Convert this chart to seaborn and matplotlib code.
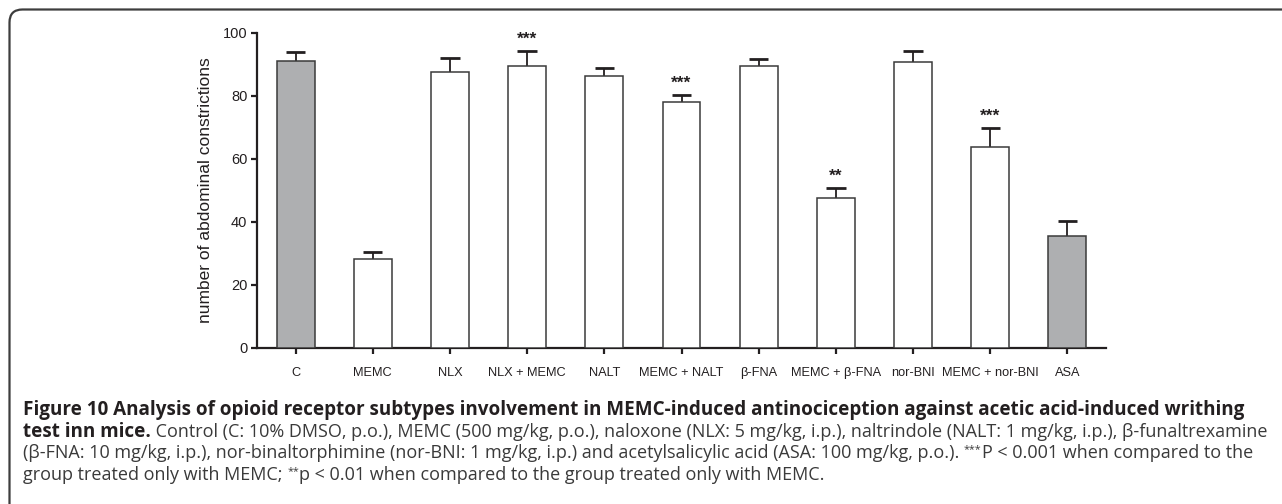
import numpy as np
import pandas as pd
import seaborn as sns
import matplotlib.pyplot as plt
from matplotlib import font_manager
from matplotlib.patches import FancyBboxPatch
from matplotlib.transforms import IdentityTransform

# group means and SEM
groups = ["C", "MEMC", "NLX", "NLX + MEMC", "NALT", "MEMC + NALT", "β-FNA",
          "MEMC + β-FNA", "nor-BNI", "MEMC + nor-BNI", "ASA"]
means = [91.2, 28.1, 87.6, 89.5, 86.4, 78.0, 89.4, 47.4, 90.7, 63.6, 35.4]
sems = [2.7, 2.2, 4.3, 4.8, 2.5, 2.4, 2.3, 3.3, 3.7, 6.3, 4.7]
stars = ["", "", "", "***", "", "***", "", "**", "", "***", ""]
yticks = [0, 20, 40, 60, 80, 100]

GRAY = "#adafb2"
INK = "#231f20"
fills = [GRAY if g in ("C", "ASA") else "white" for g in groups]

caption_lines = [
    [("Figure 10 Analysis of opioid receptor subtypes involvement in MEMC-induced "
      "antinociception against acetic acid-induced writhing", "bold", False)],
    [("test inn mice.", "bold", False),
     (" Control (C: 10% DMSO, p.o.), MEMC (500 mg/kg, p.o.), naloxone (NLX: 5 mg/kg, i.p.), "
      "naltrindole (NALT: 1 mg/kg, i.p.), β-funaltrexamine", "normal", False)],
    [("(β-FNA: 10 mg/kg, i.p.), nor-binaltorphimine (nor-BNI: 1 mg/kg, i.p.) and acetylsalicylic "
      "acid (ASA: 100 mg/kg, p.o.). ", "normal", False),
     ("***", "normal", True),
     ("P < 0.001 when compared to the", "normal", False)],
    [("group treated only with MEMC; ", "normal", False),
     ("**", "normal", True),
     ("p < 0.01 when compared to the group treated only with MEMC.", "normal", False)],
]

df = pd.DataFrame({"group": groups, "mean": means, "sem": sems})

sns.set_style("ticks")
plt.rcParams["font.family"] = ["Liberation Sans", "DejaVu Sans"]


def pick_caption_font():
    # first humanist family that really has a bold face installed
    for fam in ["Open Sans", "Lato", "Noto Sans", "Roboto"]:
        try:
            path = font_manager.findfont(font_manager.FontProperties(family=fam, weight="bold"),
                                         fallback_to_default=False)
        except Exception:
            continue
        name = path.lower()
        if fam.split()[0].lower() in name and "bold" in name:
            return fam
    return "DejaVu Sans"


cap_font = [pick_caption_font(), "DejaVu Sans"]

W, H = 1282, 504
fig = plt.figure(figsize=(W / 100, H / 100), dpi=100)
ax = fig.add_axes([257 / W, (H - 347.5) / H, 849 / W, 314.5 / H])

sns.barplot(data=df, x="group", y="mean", hue="group", palette=fills, legend=False,
            width=0.49, edgecolor="#3a3a3a", linewidth=1.1, ax=ax, zorder=3)

x = np.arange(len(groups))
tops = df["mean"] + df["sem"]
ax.vlines(x, df["mean"], tops, color=INK, lw=1.3, zorder=2)
ax.hlines(tops, x - 0.125, x + 0.125, color=INK, lw=2.0, zorder=2)

for i, s in enumerate(stars):
    if s:
        ax.text(i, tops[i] + 3.6, s, ha="center", va="center", fontsize=12.5,
                color=INK, fontweight="bold")

ax.set_xlim(-0.5, 10.5)
ax.set_ylim(0, 100)
ax.set_yticks(yticks)
ax.set_xlabel("")
ax.set_ylabel("number of abdominal constrictions", fontsize=12.5, color=INK, labelpad=7)
sns.despine(ax=ax)
for sp in ("left", "bottom"):
    ax.spines[sp].set_linewidth(1.6)
    ax.spines[sp].set_color(INK)
ax.tick_params(axis="both", length=4, width=1.6, color=INK, labelcolor=INK)
ax.tick_params(axis="x", pad=10, labelsize=9.2)
ax.tick_params(axis="y", pad=3, labelsize=10.5)

# frame around the figure panel
frame = FancyBboxPatch((9.5, -40), W + 60, H - 9.5 + 40,
                       boxstyle="round,pad=0,rounding_size=13",
                       transform=IdentityTransform(), fill=False,
                       edgecolor="#3d3d3d", lw=1.6)
fig.add_artist(frame)

# caption
renderer = fig.canvas.get_renderer()


def seg_width(text, size, weight):
    t = fig.text(0, 0, text, fontsize=size, fontweight=weight, family=cap_font,
                 transform=IdentityTransform())
    w = t.get_window_extent(renderer).width
    t.remove()
    return w


x0 = 23
base = 12.0
w_bold = seg_width(caption_lines[0][0][0], base, "bold")
bold_size = base * (1242 - x0) / w_bold
w_reg = sum(seg_width(s, base * (0.6 if sup else 1), wt) for s, wt, sup in caption_lines[2])
reg_size = base * (1250 - x0) / w_reg

baselines = [415, 437, 458.5, 480]
for line, yb in zip(caption_lines, baselines):
    cx = x0
    for text, weight, sup in line:
        size = bold_size if weight == "bold" else reg_size
        color = INK if weight == "bold" else "#3a3a3a"
        dy = 0
        if sup:
            size *= 0.6
            dy = 6
        t = fig.text(cx, H - yb + dy, text, fontsize=size, fontweight=weight,
                     family=cap_font, color=color, va="baseline", ha="left",
                     transform=IdentityTransform())
        cx += t.get_window_extent(renderer).width

fig.savefig("out.png", dpi=100)
